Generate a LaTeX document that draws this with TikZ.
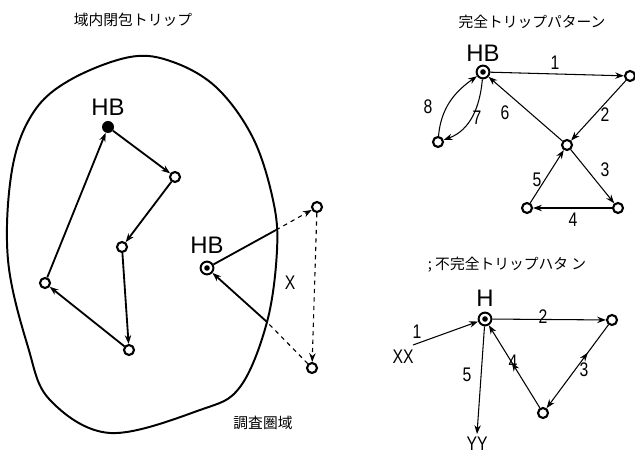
\documentclass[tikz,border=0pt]{standalone}
\usepackage{fontspec}
\setmainfont{Liberation Sans}
\newfontfamily\jpfont{Noto Sans CJK JP}
\newfontfamily\numfont[FakeStretch=0.8]{Liberation Sans}
\usetikzlibrary{arrows.meta, decorations.markings}

\begin{document}
\begin{tikzpicture}[
    x=0.025cm, y=-0.025cm,
    >={Stealth[length=2.2mm, width=1.6mm]},
    stop/.style={circle, draw, line width=1.5pt, fill=white, inner sep=0pt, minimum size=0.25cm},
    homefull/.style={circle, fill=black, inner sep=0pt, minimum size=0.3cm},
    home/.style={circle, draw, line width=1.4pt, fill=white, inner sep=0pt, minimum size=0.32cm,
        path picture={\fill[black] (path picture bounding box.center) circle (0.07cm);}},
    heavy/.style={line width=1.3pt, ->},
    thin/.style={line width=0.75pt, ->},
    midfwd/.style={postaction={decorate}, decoration={markings, mark=at position #1 with {\arrow{Stealth[length=2.2mm, width=1.6mm]}}}},
    midback/.style={postaction={decorate}, decoration={markings, mark=at position #1 with {\arrow{Stealth[length=2.2mm, width=1.6mm, reversed]}}}},
    hblabel/.style={font=\fontsize{17}{17}\selectfont},
    numlabel/.style={font=\numfont\fontsize{14}{14}\selectfont},
    title/.style={font=\jpfont\fontsize{10.5}{11}\selectfont},
]
    \useasboundingbox (0,0) rectangle (635,457);

    % survey area boundary
    \draw[line width=1.4pt] plot[smooth cycle, tension=0.6] coordinates {
        (130,57) (173,62) (217,88) (253,138) (273,200) (277,250) (267,322)
        (240,387) (200,410) (110,433) (50,400) (28,347) (8,260) (12,170)
        (33,113) (70,80)};

    \node[title] (tLeft) at (133,20) {域内閉包トリップ};
    \node[title] (tArea) at (263,423) {調査圏域};

    % closed trip inside the area
    \node[homefull] (hbL) at (108,127) {};
    \node[hblabel] (lHBL) at (108,107) {HB};
    \node[stop] (a) at (175,177) {};
    \node[stop] (b) at (122,247) {};
    \node[stop] (c) at (129,350) {};
    \node[stop] (d) at (45,283) {};
    \draw[heavy] (hbL) -- (a);
    \draw[heavy] (a) -- (b);
    \draw[heavy] (b) -- (c);
    \draw[heavy] (c) -- (d);
    \draw[heavy] (d) -- (hbL);

    % trip leaving the area
    \node[home] (hbO) at (207,268) {};
    \node[hblabel] (lHBO) at (207,245) {HB};
    \node[stop] (e) at (317,207) {};
    \node[stop] (f) at (312,368) {};
    \coordinate (p1) at (276,230);
    \coordinate (p2) at (267,322);
    \draw[line width=1.3pt] (hbO) -- (p1);
    \draw[line width=0.8pt, dashed, ->] (p1) -- (e);
    \draw[line width=0.8pt, dashed, ->] (e) -- (f);
    \draw[line width=0.8pt, dashed] (f) -- (p2);
    \draw[heavy] (p2) -- (hbO);
    \node[numlabel] (lX) at (290,283) {X};

    % complete trip pattern
    \node[title] (tFull) at (532,22) {完全トリップパターン};
    \node[home] (hbR) at (483,72) {};
    \node[hblabel] (lHBR) at (483,53) {HB};
    \node[stop] (n1) at (630,76) {};
    \node[stop] (n2) at (567,145) {};
    \node[stop] (n3) at (618,208) {};
    \node[stop] (n4) at (527,208) {};
    \node[stop] (n5) at (438,142) {};
    \draw[thin] (hbR) -- (n1);
    \draw[thin] (n1) -- (n2);
    \draw[thin] (n2) -- (n3);
    \draw[thin] (n3) -- (n4);
    \draw[thin] (n4) -- (n2);
    \draw[thin] (n2) -- (hbR);
    \draw[thin] (hbR) to[out=-95, in=20] (n5);
    \draw[thin] (n5) to[out=85, in=215] (hbR);
    \node[numlabel] (l1) at (555,63) {1};
    \node[numlabel] (l2) at (605,115) {2};
    \node[numlabel] (l3) at (605,170) {3};
    \node[numlabel] (l4) at (573,220) {4};
    \node[numlabel] (l5) at (537,180) {5};
    \node[numlabel] (l6) at (505,113) {6};
    \node[numlabel] (l7) at (477,118) {7};
    \node[numlabel] (l8) at (428,107) {8};

    % incomplete trip pattern
    \node[title] (tPart) at (507,265) {; 不完全トリップハタ ン};
    \node[home] (hH) at (485,319) {};
    \node[hblabel] (lH) at (485,298) {H};
    \node[stop] (m1) at (612,320) {};
    \node[stop] (m2) at (543,413) {};
    \coordinate (xxA) at (413,345);
    \coordinate (yyB) at (477,434);
    \draw[thin] (xxA) -- (hH);
    \draw[thin] (hH) -- (m1);
    \draw[thin, midback=0.42] (m1) -- (m2);
    \draw[thin, midfwd=0.55] (m2) -- (hH);
    \draw[thin] (hH) -- (yyB);
    \node[numlabel, inner sep=1pt] (lYY) at (477,444) {YY};
    \node[numlabel] (lXX) at (403,357) {XX};
    \node[numlabel] (k1) at (417,332) {1};
    \node[numlabel] (k2) at (543,317) {2};
    \node[numlabel] (k3) at (584,370) {3};
    \node[numlabel] (k4) at (513,362) {4};
    \node[numlabel] (k5) at (467,375) {5};
\end{tikzpicture}
\end{document}
